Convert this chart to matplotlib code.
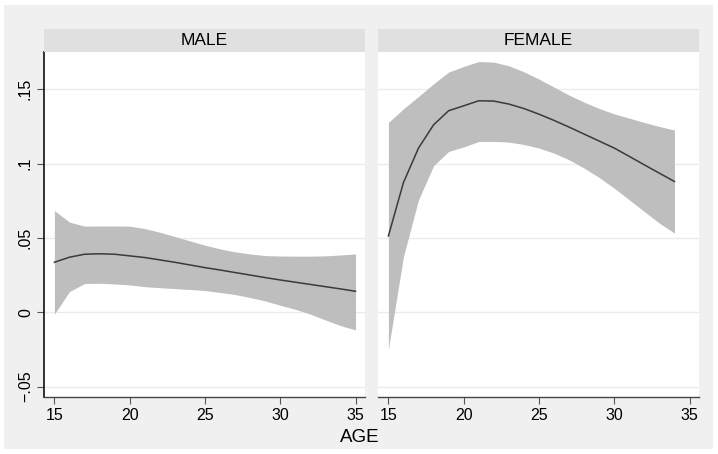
import matplotlib
matplotlib.use("Agg")
import matplotlib.pyplot as plt
from matplotlib.patches import Rectangle

plt.rcParams["font.family"] = ["Liberation Sans", "DejaVu Sans"]

# ---- data ----
age_male = list(range(15, 36))
male_mean = [0.0336, 0.0370, 0.0390, 0.0393, 0.0390, 0.0379, 0.0368, 0.0352, 0.0336, 0.0318,
             0.0300, 0.0284, 0.0267, 0.0250, 0.0233, 0.0217, 0.0202, 0.0187, 0.0172, 0.0157, 0.0141]
male_hi = [0.0684, 0.0606, 0.0579, 0.0580, 0.0580, 0.0579, 0.0563, 0.0538, 0.0509, 0.0480,
           0.0451, 0.0426, 0.0406, 0.0392, 0.0381, 0.0378, 0.0377, 0.0377, 0.0379, 0.0385, 0.0392]
male_lo = [-0.0013, 0.0139, 0.0193, 0.0195, 0.0190, 0.0184, 0.0172, 0.0165, 0.0159, 0.0153,
           0.0146, 0.0133, 0.0119, 0.0099, 0.0076, 0.0047, 0.0020, -0.0013, -0.0052, -0.0090, -0.0119]

age_female = list(range(15, 35))
female_mean = [0.0513, 0.0872, 0.1104, 0.1260, 0.1355, 0.1388, 0.1422, 0.1420, 0.1400, 0.1370,
               0.1332, 0.1290, 0.1245, 0.1198, 0.1151, 0.1104, 0.1048, 0.0991, 0.0935, 0.0879]
female_hi = [0.1276, 0.1368, 0.1451, 0.1536, 0.1615, 0.1653, 0.1686, 0.1682, 0.1657, 0.1617,
             0.1568, 0.1514, 0.1460, 0.1413, 0.1370, 0.1334, 0.1305, 0.1276, 0.1249, 0.1225]
female_lo = [-0.0249, 0.0374, 0.0756, 0.0985, 0.1081, 0.1112, 0.1148, 0.1149, 0.1144, 0.1128,
             0.1104, 0.1070, 0.1025, 0.0969, 0.0906, 0.0834, 0.0756, 0.0677, 0.0599, 0.0532]

panels = ["MALE", "FEMALE"]
yticks = [-0.05, 0, 0.05, 0.1, 0.15]
ytick_labels = ["\u2212.05", "0", ".05", ".1", ".15"]
xticks = [15, 20, 25, 30, 35]

W, H = 718, 454
BG = "#f0f0f0"; STRIP = "#e0e0e0"; BAND = "#bebebe"; LINE = "#3a3a3a"

fig = plt.figure(figsize=(W / 100, H / 100), dpi=100, facecolor="white")
fig.patches.append(Rectangle((4 / W, 5 / H), 709 / W, 444 / H, transform=fig.transFigure,
                             facecolor=BG, edgecolor="none", zorder=-10))


def px_rect(x0, y0, x1, y1):
    return [x0 / W, (H - y1) / H, (x1 - x0) / W, (y1 - y0) / H]


data = [(age_male, male_mean, male_lo, male_hi), (age_female, female_mean, female_lo, female_hi)]
lefts = [44, 378]
for i, (name, (a, m, lo, hi)) in enumerate(zip(panels, data)):
    x0 = lefts[i]
    x1 = x0 + 321
    ax = fig.add_axes(px_rect(x0, 52, x1, 397))
    ax.set_facecolor("white")
    ax.fill_between(a, lo, hi, color=BAND, lw=0, zorder=2)
    ax.plot(a, m, color=LINE, lw=1.1, zorder=3)
    ax.set_xlim(14.31, 35.63)
    ax.set_ylim(-0.057, 0.175)
    ax.set_yticks(yticks)
    for y in yticks:
        ax.axhline(y, color="#ebebeb", lw=1, zorder=1)
    ax.set_xticks(xticks)
    ax.set_xticklabels([str(t) for t in xticks], fontsize=11.5)
    ax.tick_params(axis="x", direction="out", length=5, width=0.8, color="#555555", pad=3)
    for s in ["top", "right"]:
        ax.spines[s].set_visible(False)
    ax.spines["bottom"].set_color("#444444")
    ax.spines["bottom"].set_linewidth(1)
    if i == 0:
        ax.set_yticklabels(ytick_labels, fontsize=11.5, rotation=90, va="center")
        ax.tick_params(axis="y", direction="out", length=5, width=0.8, color="#555555", pad=3)
        ax.spines["left"].set_color("#111111")
        ax.spines["left"].set_linewidth(1.2)
    else:
        ax.spines["left"].set_visible(False)
        ax.tick_params(axis="y", left=False, labelleft=False)
    # strip header
    sax = fig.add_axes(px_rect(x0, 29, x1, 52))
    sax.set_facecolor(STRIP)
    sax.set_xticks([]); sax.set_yticks([])
    for s in sax.spines.values():
        s.set_visible(False)
    sax.text(0.5, 0.5, name, ha="center", va="center", fontsize=12.5, transform=sax.transAxes)

fig.text(360 / W, 1 - 438 / H, "AGE", ha="center", va="center", fontsize=13.5)

fig.savefig("out.png", dpi=100, facecolor="white")
